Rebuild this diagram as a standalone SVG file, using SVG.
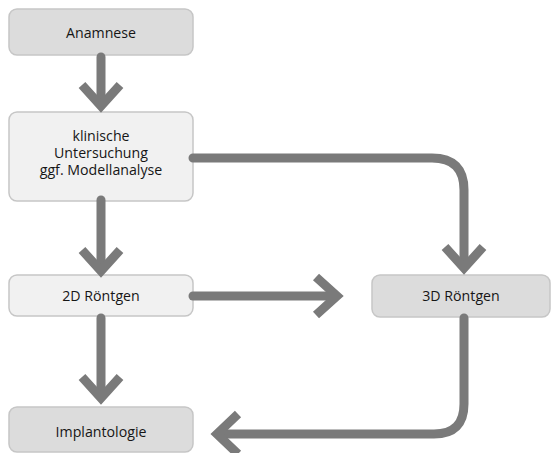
<svg xmlns="http://www.w3.org/2000/svg" width="551" height="453" viewBox="0 0 551 453">
<style>
.box{stroke:#c6c6c6;stroke-width:1.5}
.dark{fill:#dcdcdc}
.light{fill:#f1f1f1}
.t{font-family:"Open Sans","Liberation Sans",sans-serif;font-size:14.2px;fill:#161616;text-anchor:middle}
.ln{fill:none;stroke:#7a7a7a;stroke-width:9;stroke-linecap:round;stroke-linejoin:round}
.hd{fill:none;stroke:#7a7a7a;stroke-width:9;stroke-linecap:butt;stroke-linejoin:miter;stroke-miterlimit:10}
</style>
<rect width="551" height="453" fill="#ffffff"/>
<g id="anamnese"><rect class="box dark" x="9" y="9" width="184" height="46" rx="8"/><text class="t" x="101" y="38">Anamnese</text></g>
<g id="klinische"><rect class="box light" x="9" y="112" width="184" height="89" rx="8"/><text class="t" x="101" y="140.5">klinische</text><text class="t" x="101" y="157.5">Untersuchung</text><text class="t" x="101" y="174.5">ggf. Modellanalyse</text></g>
<g id="roentgen2d"><rect class="box light" x="9" y="275" width="184" height="41" rx="8"/><text class="t" x="101" y="300.5">2D Röntgen</text></g>
<g id="roentgen3d"><rect class="box dark" x="372" y="275" width="178" height="42" rx="8"/><text class="t" x="461" y="301">3D Röntgen</text></g>
<g id="implantologie"><rect class="box dark" x="9" y="407" width="184" height="45" rx="8"/><text class="t" x="101" y="437">Implantologie</text></g>
<g id="connectors">
<path class="ln" d="M101,57 V103"/><path class="hd" d="M82,85 L101,106 L120,85"/>
<path class="ln" d="M101,200 V268"/><path class="hd" d="M82,250 L101,271 L120,250"/>
<path class="ln" d="M101,318 V395"/><path class="hd" d="M82,377 L101,398 L120,377"/>
<path class="ln" d="M193,158 H432 Q464,158 464,190 V265"/><path class="hd" d="M445,247 L464,268 L483,247"/>
<path class="ln" d="M193,296 H333"/><path class="hd" d="M316,277 L337,296 L316,315"/>
<path class="ln" d="M464,318 V404 Q464,434 434,434 H220"/><path class="hd" d="M238,414 L217,434 L238,454"/>
</g>
</svg>
